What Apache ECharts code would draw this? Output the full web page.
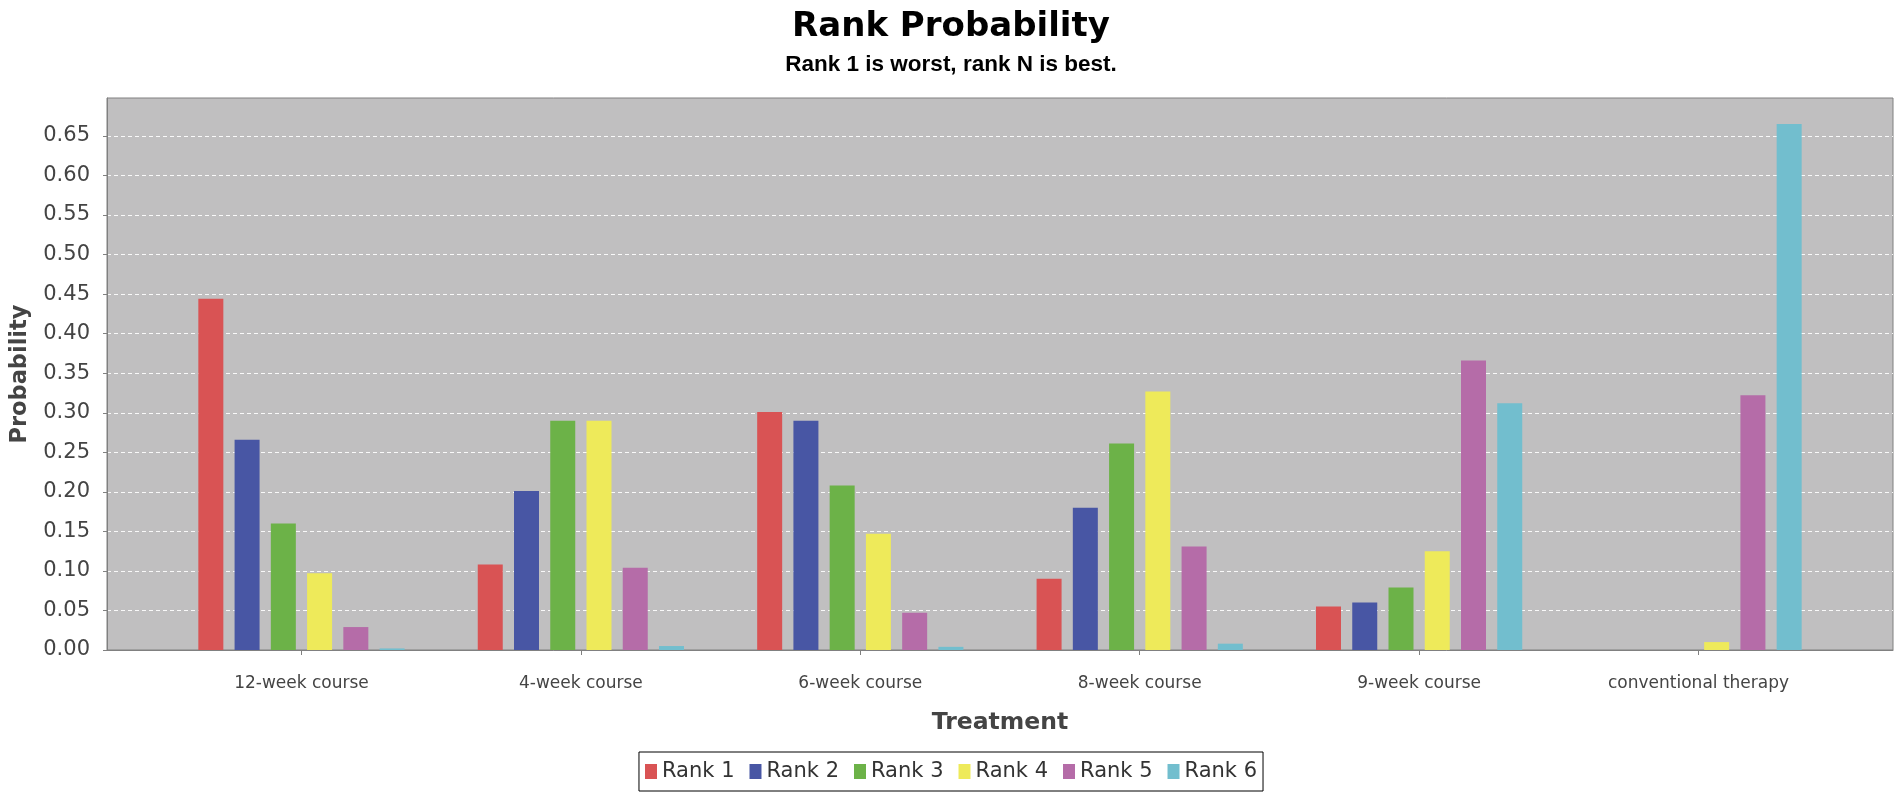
<!DOCTYPE html>
<html>
<head>
<meta charset="utf-8">
<script src="https://cdn.jsdelivr.net/npm/echarts@6/dist/echarts.min.js"></script>
<style>
html,body{margin:0;padding:0;background:#fff;}
#chart{width:1902px;height:799px;}
</style>
</head>
<body>
<div id="chart"></div>
<script>
const categories = ['12-week course', '4-week course', '6-week course', '8-week course', '9-week course', 'conventional therapy'];
const seriesNames = ['Rank 1', 'Rank 2', 'Rank 3', 'Rank 4', 'Rank 5', 'Rank 6'];
const rank1 = [0.444, 0.108, 0.301, 0.090, 0.055, 0];
const rank2 = [0.266, 0.201, 0.290, 0.180, 0.060, 0];
const rank3 = [0.160, 0.290, 0.208, 0.261, 0.079, 0];
const rank4 = [0.097, 0.290, 0.147, 0.327, 0.125, 0.010];
const rank5 = [0.029, 0.104, 0.047, 0.131, 0.366, 0.322];
const rank6 = [0.002, 0.005, 0.004, 0.008, 0.312, 0.665];
const colors = ['#d95354', '#4856a4', '#6cb248', '#eeea5a', '#b56ca8', '#72bece'];
const yMax = 0.698;
const yInterval = 0.05;

const allValues = [rank1, rank2, rank3, rank4, rank5, rank6];

const chart = echarts.init(document.getElementById('chart'));
const font = 'DejaVu Sans';
chart.setOption({
  animation: false,
  backgroundColor: '#ffffff',
  color: colors,
  title: [
    {
      text: 'Rank Probability', left: 'center', top: 10, padding: 0,
      textStyle: { fontFamily: font, fontWeight: 'bold', fontSize: 34, lineHeight: 34, color: '#000' }
    },
    {
      text: 'Rank 1 is worst, rank N is best.', left: 'center', top: 54, padding: 0,
      textStyle: { fontFamily: 'Liberation Sans', fontWeight: 'bold', fontSize: 22.5, lineHeight: 22, color: '#000' }
    }
  ],
  legend: {
    data: seriesNames,
    left: 'center', top: 752,
    icon: 'rect', itemWidth: 12, itemHeight: 15, itemGap: 15,
    padding: [9, 6],
    borderColor: '#000', borderWidth: 1,
    textStyle: { fontFamily: font, fontSize: 21, lineHeight: 21, color: '#333' }
  },
  grid: [
    { left: 107, right: 9, top: 98, bottom: 149, show: true, backgroundColor: '#c0bfc0', borderColor: '#808080', borderWidth: 1, containLabel: false },
    { left: 161.75, right: 63.75, top: 98, bottom: 149, show: false, containLabel: false }
  ],
  xAxis: [
    {
      gridIndex: 0, type: 'value', min: 0, max: 1, offset: 7,
      axisLine: { show: true, lineStyle: { color: '#808080', width: 1 } },
      axisTick: { show: false }, axisLabel: { show: false }, splitLine: { show: false },
      name: 'Treatment', nameLocation: 'middle', nameGap: 54,
      nameTextStyle: { fontFamily: font, fontWeight: 'bold', fontSize: 23.5, color: '#444' }
    },
    {
      gridIndex: 1, type: 'category', data: categories, offset: 7,
      axisLine: { show: false },
      axisTick: { show: true, alignWithLabel: true, length: 5, lineStyle: { color: '#808080' } },
      axisLabel: { fontFamily: font, fontSize: 17, color: '#444', margin: 18 },
      splitLine: { show: false }
    }
  ],
  yAxis: [
    {
      gridIndex: 0, type: 'value', min: 0, max: yMax, interval: yInterval, offset: 7,
      axisLine: { show: true, lineStyle: { color: '#808080', width: 1 } },
      axisTick: { show: true, length: 4, lineStyle: { color: '#808080' } },
      axisLabel: { fontFamily: font, fontSize: 21, color: '#444', margin: 10, showMaxLabel: false,
        formatter: v => v.toFixed(2) },
      splitLine: { show: true, showMinLine: false, showMaxLine: false,
        lineStyle: { color: 'rgba(255,255,255,0.9)', width: 1, type: [4, 3] } },
      name: 'Probability', nameLocation: 'middle', nameGap: 68,
      nameTextStyle: { fontFamily: font, fontWeight: 'bold', fontSize: 22.5, color: '#444' }
    },
    {
      gridIndex: 1, type: 'value', min: 0, max: yMax, interval: yInterval, show: false,
      splitLine: { show: false }
    }
  ],
  series: seriesNames.map((name, i) => ({
    name: name,
    type: 'bar',
    xAxisIndex: 1, yAxisIndex: 1,
    data: allValues[i],
    barWidth: 25,
    barGap: '45%',
    itemStyle: { color: colors[i] }
  }))
});
</script>
</body>
</html>
